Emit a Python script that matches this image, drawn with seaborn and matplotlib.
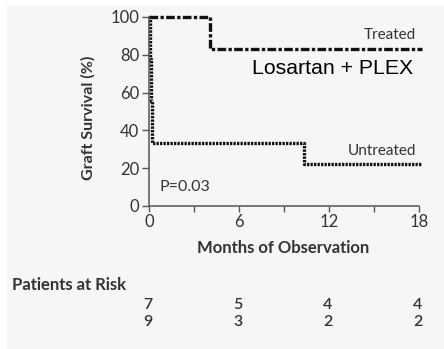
import matplotlib
matplotlib.use("Agg")
import matplotlib.pyplot as plt
import seaborn as sns
import pandas as pd
from matplotlib.patches import Rectangle

# data
treated_t = [0, 4.05, 18.2]
treated_s = [100, 83.3, 83.3]
untreated_t = [0, 0.04, 0.08, 0.11, 0.14, 0.17, 0.2, 10.3, 18.2]
untreated_s = [100, 88.9, 77.8, 66.7, 55.6, 44.4, 33.3, 22.2, 22.2]
x_ticks = [0, 3, 6, 9, 12, 15, 18]
x_labels = ["0", "", "6", "", "12", "", "18"]
y_ticks = [0, 20, 40, 60, 80, 100]
risk_times = [0, 6, 12, 18]
risk_treated = [7, 5, 4, 4]
risk_untreated = [9, 3, 2, 2]

sns.set_theme(style="white")
plt.rcParams['font.family'] = ['Lato', 'DejaVu Sans']

W, H = 444, 349
fig = plt.figure(figsize=(W / 100, H / 100), dpi=100, facecolor="white")
fig.patches.append(Rectangle((7 / W, 0), 1, 1 - 5 / H, transform=fig.transFigure,
                             facecolor="#f6f6f6", edgecolor="none", zorder=-10))

ax_left = 149 / W
ax_bottom = (H - 206) / H
ax_w = (18.3 * 15) / W
ax_h = 189 / H
ax = fig.add_axes([ax_left, ax_bottom, ax_w, ax_h])
ax.set_facecolor("none")

df_t = pd.DataFrame({"t": treated_t, "s": treated_s})
df_u = pd.DataFrame({"t": untreated_t, "s": untreated_s})

sns.lineplot(data=df_t, x="t", y="s", ax=ax, drawstyle="steps-post", estimator=None,
             color="#111111", linewidth=2.4, clip_on=False)
sns.lineplot(data=df_u, x="t", y="s", ax=ax, drawstyle="steps-post", estimator=None,
             color="#111111", linewidth=2.4, clip_on=False)
lines = ax.get_lines()
lines[0].set_dashes((2.6, 0.7, 1.0, 0.7))
lines[1].set_dashes((0.7, 0.35))

ax.set_xlim(0, 18.3)
ax.set_ylim(0, 100)
for s in ["top", "right"]:
    ax.spines[s].set_visible(False)
for s in ["left", "bottom"]:
    ax.spines[s].set_color("#555555")
    ax.spines[s].set_linewidth(1.1)
ax.spines["bottom"].set_bounds(0, 18)
ax.spines["left"].set_bounds(0, 100)

ax.set_xticks(x_ticks)
ax.set_xticklabels(x_labels)
ax.set_yticks(y_ticks)
ax.tick_params(axis="both", direction="out", length=4, width=1, color="#555555",
               labelsize=12, labelcolor="#333333", pad=2, bottom=True, left=True)
ax.tick_params(axis="y", length=5)

ax.set_xlabel("")
ax.set_ylabel("")
fig.text(88 / W, 1 - 118 / H, "Graft Survival (%)", rotation=90, ha="center", va="center",
         fontsize=11.5, fontweight="bold", color="#333333")
fig.text(283 / W, 1 - 248 / H, "Months of Observation", ha="center", va="center",
         fontsize=12, fontweight="bold", color="#333333")
fig.text(12 / W, 1 - 285 / H, "Patients at Risk", ha="left", va="center",
         fontsize=12, fontweight="bold", color="#333333")

for t, a, b in zip(risk_times, risk_treated, risk_untreated):
    xp = ax.transData.transform((t, 0))[0] / W - 1 / W
    fig.text(xp, 1 - 305 / H, str(a), ha="center", va="center", fontsize=11.5,
             fontweight="semibold", color="#333333")
    fig.text(xp, 1 - 322 / H, str(b), ha="center", va="center", fontsize=11.5,
             fontweight="semibold", color="#333333")

ax.text(17.8, 87, "Treated", ha="right", va="bottom", fontsize=11, color="#333333")
ax.text(17.8, 25.5, "Untreated", ha="right", va="bottom", fontsize=11, color="#333333")
ax.text(17.6, 73, "Losartan + PLEX", ha="right", va="center", fontsize=15.3,
        color="black", family=["Liberation Sans", "DejaVu Sans"])
ax.text(0.7, 10, "P=0.03", ha="left", va="center", fontsize=11.5, color="#333333")

fig.savefig("out.png", dpi=100, facecolor=fig.get_facecolor())
